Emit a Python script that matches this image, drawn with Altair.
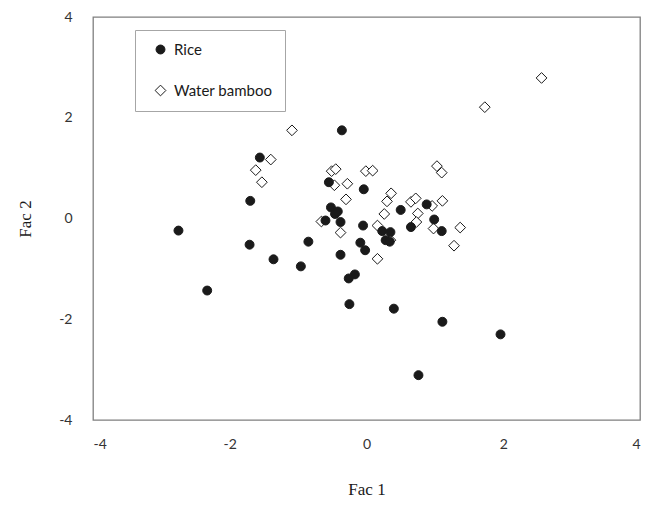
import altair as alt
import pandas as pd

rice_x = [-0.36, -1.56, -0.55, -0.04, -1.70, -0.52, -0.46, -0.42, -0.38, -0.60, -0.05, 0.50,
          0.88, 0.99, 0.65, 1.10, 0.23, 0.35, 0.28, 0.34, -2.75, -1.71, -0.85, -0.09, -0.02,
          -0.38, -1.36, -0.96, -0.17, -0.26, -2.33, -0.25, 0.40, 1.11, 1.96, 0.76]
rice_y = [1.75, 1.21, 0.72, 0.58, 0.35, 0.22, 0.09, 0.14, -0.07, -0.04, -0.14, 0.17,
          0.28, -0.02, -0.17, -0.25, -0.25, -0.27, -0.43, -0.46, -0.24, -0.52, -0.46, -0.48, -0.63,
          -0.72, -0.81, -0.95, -1.11, -1.19, -1.43, -1.70, -1.79, -2.05, -2.30, -3.11]

wb_x = [2.56, 1.73, -1.09, -1.40, -1.62, -1.53, -0.51, -0.45, -0.47, -0.28, -0.01, 0.09, -0.30,
        0.36, 0.30, 0.65, 0.72, 0.26, 0.75, 0.96, 1.11, 1.03, 1.10, 0.73, 0.98, 1.37, 1.28,
        0.16, -0.38, -0.66, 0.35, 0.16]
wb_y = [2.79, 2.21, 1.75, 1.17, 0.96, 0.72, 0.94, 0.98, 0.66, 0.69, 0.94, 0.95, 0.38,
        0.50, 0.34, 0.33, 0.40, 0.09, 0.10, 0.25, 0.35, 1.04, 0.91, -0.07, -0.20, -0.18, -0.54,
        -0.14, -0.28, -0.06, -0.43, -0.80]

groups = ["Rice", "Water bamboo"]
ticks = [-4, -2, 0, 2, 4]

# water bamboo first so rice points are drawn on top
df = pd.concat([
    pd.DataFrame({"x": wb_x, "y": wb_y, "g": groups[1]}),
    pd.DataFrame({"x": rice_x, "y": rice_y, "g": groups[0]}),
], ignore_index=True)

legend = alt.Legend(
    title=None, orient="none", legendX=42, legendY=13,
    direction="vertical", strokeColor="#a6a6a6", fillColor="white",
    padding=12, rowPadding=25, labelFont="Lato", labelFontSize=15,
    labelColor="#1a1a1a", symbolOffset=6, labelOffset=6, symbolStrokeWidth=1,
)

chart = alt.Chart(df).mark_point(opacity=1, strokeWidth=1).encode(
    x=alt.X("x:Q", scale=alt.Scale(domain=[-4, 4], nice=False),
            axis=alt.Axis(title="Fac 1", values=ticks, labelExpr="datum.value + ''", grid=False,
                          domain=False, ticks=False, labelPadding=17, titlePadding=30)),
    y=alt.Y("y:Q", scale=alt.Scale(domain=[-4, 4], nice=False),
            axis=alt.Axis(title="Fac 2", values=ticks, labelExpr="datum.value + ''", grid=False,
                          domain=False, ticks=False, labelPadding=21, titlePadding=24)),
    shape=alt.Shape("g:N", scale=alt.Scale(domain=groups, range=["circle", "diamond"]), legend=legend),
    fill=alt.Fill("g:N", scale=alt.Scale(domain=groups, range=["#1a1a1a", "white"]), legend=legend),
    stroke=alt.Stroke("g:N", scale=alt.Scale(domain=groups, range=["#1a1a1a", "#1a1a1a"]), legend=legend),
    size=alt.Size("g:N", scale=alt.Scale(domain=groups, range=[80, 115]), legend=legend),
).properties(
    width=547, height=403,
    autosize=alt.AutoSizeParams(type="none"),
    padding={"left": 85, "top": 9, "right": 6, "bottom": 80},
).configure_view(
    stroke="#7f7f7f", strokeWidth=1.3
).configure_axis(
    labelFont="Lato", labelFontSize=14, labelColor="#333333",
    titleFont="Liberation Serif", titleFontSize=17, titleFontWeight="normal", titleColor="#1a1a1a",
)

chart.save("out.html", embed_options={"renderer": "svg", "actions": False})
